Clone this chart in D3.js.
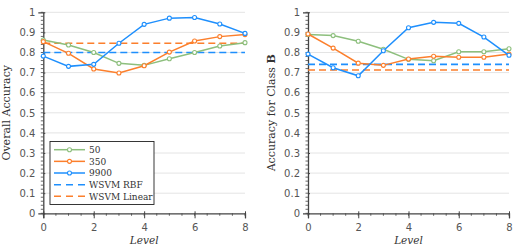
<!DOCTYPE html>
<html>
<head>
<meta charset="utf-8">
<script src="https://cdn.jsdelivr.net/npm/d3@7"></script>
<style>
  body { margin: 0; background: #fff; }
  .tick text { font-family: "DejaVu Sans", sans-serif; font-size: 10px; fill: #555; }
  .lbl { font-family: "DejaVu Serif", "Liberation Serif", serif; fill: #333; }
</style>
</head>
<body>
<svg id="chart" width="526" height="252"></svg>
<script>
// Data
const levels = [0, 1, 2, 3, 4, 5, 6, 7, 8];
const seriesNames = ["50", "350", "9900"];
const seriesColors = ["#8dbf7d", "#fc7f2c", "#1e8ffd"];

const overall50   = [0.862, 0.837, 0.800, 0.746, 0.736, 0.769, 0.800, 0.832, 0.849];
const overall350  = [0.854, 0.796, 0.718, 0.698, 0.734, 0.802, 0.857, 0.879, 0.889];
const overall9900 = [0.782, 0.731, 0.741, 0.846, 0.940, 0.971, 0.974, 0.942, 0.895];
const overallRBF = 0.800, overallLinear = 0.846;

const classB50   = [0.890, 0.884, 0.856, 0.816, 0.766, 0.759, 0.804, 0.804, 0.819];
const classB350  = [0.892, 0.822, 0.747, 0.736, 0.768, 0.781, 0.776, 0.776, 0.792];
const classB9900 = [0.792, 0.724, 0.684, 0.809, 0.923, 0.950, 0.945, 0.877, 0.786];
const classBRBF = 0.741, classBLinear = 0.713;

const svg = d3.select("#chart");

function drawPanel(x0, x1, series, rbf, linear, ylabel) {
  const x = d3.scaleLinear().domain([0, 8]).range([x0, x1]);
  const y = d3.scaleLinear().domain([0, 1]).range([213.3, 12.3]);
  const g = svg.append("g");

  // grid
  g.selectAll(".grid").data(d3.range(1, 11).map(d => d / 10)).enter()
    .append("line")
    .attr("x1", x0).attr("x2", x1)
    .attr("y1", d => y(d)).attr("y2", d => y(d))
    .attr("stroke", "#e4e4e4").attr("stroke-width", 1);

  // minor ticks
  g.selectAll(".ymin").data(d3.range(0, 51).map(d => d / 50)).enter()
    .append("line")
    .attr("x1", x0 - 2.5).attr("x2", x0)
    .attr("y1", d => y(d)).attr("y2", d => y(d))
    .attr("stroke", "#444").attr("stroke-width", 0.8);
  g.selectAll(".xmin").data(d3.range(0, 17).map(d => d / 2)).enter()
    .append("line")
    .attr("x1", d => x(d)).attr("x2", d => x(d))
    .attr("y1", y(0)).attr("y2", y(0) + 2.5)
    .attr("stroke", "#444").attr("stroke-width", 0.8);

  // axes
  const yAxis = d3.axisLeft(y).tickValues(d3.range(0, 11).map(d => d / 10))
    .tickFormat(d => d === 0 ? "0" : d === 1 ? "1" : d3.format(".1f")(d))
    .tickSize(5).tickPadding(3);
  const ga = g.append("g").attr("transform", `translate(${x0},0)`).call(yAxis);
  ga.select(".domain").attr("stroke", "#444").attr("stroke-width", 1.3);
  ga.selectAll(".tick line").attr("stroke", "#444").attr("x2", 2);

  const xAxis = d3.axisBottom(x).tickValues([0, 2, 4, 6, 8]).tickSize(5).tickPadding(6);
  const gx = g.append("g").attr("transform", `translate(0,${y(0)})`).call(xAxis);
  gx.select(".domain").attr("stroke", "#444").attr("stroke-width", 1.3);
  gx.selectAll(".tick line").attr("stroke", "#444").attr("y1", -2);

  // reference lines
  [[rbf, seriesColors[2]], [linear, seriesColors[1]]].forEach(([v, c]) => {
    g.append("line")
      .attr("x1", x0).attr("x2", x1)
      .attr("y1", y(v)).attr("y2", y(v))
      .attr("stroke", c).attr("stroke-width", 1.6)
      .attr("stroke-dasharray", "7,4");
  });

  // series
  const line = d3.line().x((d, i) => x(levels[i])).y(d => y(d));
  series.forEach((vals, k) => {
    g.append("path").datum(vals)
      .attr("d", line).attr("fill", "none")
      .attr("stroke", seriesColors[k]).attr("stroke-width", 1.5);
    g.selectAll(".pt" + k).data(vals).enter()
      .append("circle")
      .attr("cx", (d, i) => x(levels[i])).attr("cy", d => y(d))
      .attr("r", 2).attr("fill", "#fff")
      .attr("stroke", seriesColors[k]).attr("stroke-width", 1.1);
  });

  // labels
  g.append("text").attr("class", "lbl")
    .attr("x", (x0 + x1) / 2).attr("y", 244)
    .attr("text-anchor", "middle").attr("font-size", 10.5)
    .attr("font-style", "italic").text("Level");

  const yl = g.append("text").attr("class", "lbl")
    .attr("transform", `translate(${x0 - 33.5},${y(0.5)}) rotate(-90)`)
    .attr("text-anchor", "middle").attr("font-size", 11);
  ylabel(yl);
  return { x, y };
}

drawPanel(43.3, 245, [overall50, overall350, overall9900], overallRBF, overallLinear,
  t => t.text("Overall Accuracy"));
drawPanel(308, 509, [classB50, classB350, classB9900], classBRBF, classBLinear,
  t => { t.append("tspan").text("Accuracy for Class "); t.append("tspan").attr("font-weight", "bold").text("B"); });

// legend
const legendItems = [
  { name: seriesNames[0], color: seriesColors[0], dash: false },
  { name: seriesNames[1], color: seriesColors[1], dash: false },
  { name: seriesNames[2], color: seriesColors[2], dash: false },
  { name: "WSVM RBF", color: seriesColors[2], dash: true },
  { name: "WSVM Linear", color: seriesColors[1], dash: true }
];
const lg = svg.append("g").attr("transform", "translate(50,141.5)");
lg.append("rect").attr("width", 104).attr("height", 63)
  .attr("fill", "#fff").attr("stroke", "#222").attr("stroke-width", 0.9);
legendItems.forEach((d, i) => {
  const yy = 8.2 + i * 11.65;
  lg.append("line").attr("x1", 4).attr("x2", 35).attr("y1", yy).attr("y2", yy)
    .attr("stroke", d.color).attr("stroke-width", 1.5)
    .attr("stroke-dasharray", d.dash ? "7,5" : null);
  if (!d.dash) {
    lg.append("circle").attr("cx", 19.5).attr("cy", yy).attr("r", 2)
      .attr("fill", "#fff").attr("stroke", d.color).attr("stroke-width", 1.1);
  }
  lg.append("text").attr("class", "lbl").attr("x", 39).attr("y", yy + 3.3)
    .attr("font-size", 9).text(d.name);
});
</script>
</body>
</html>
